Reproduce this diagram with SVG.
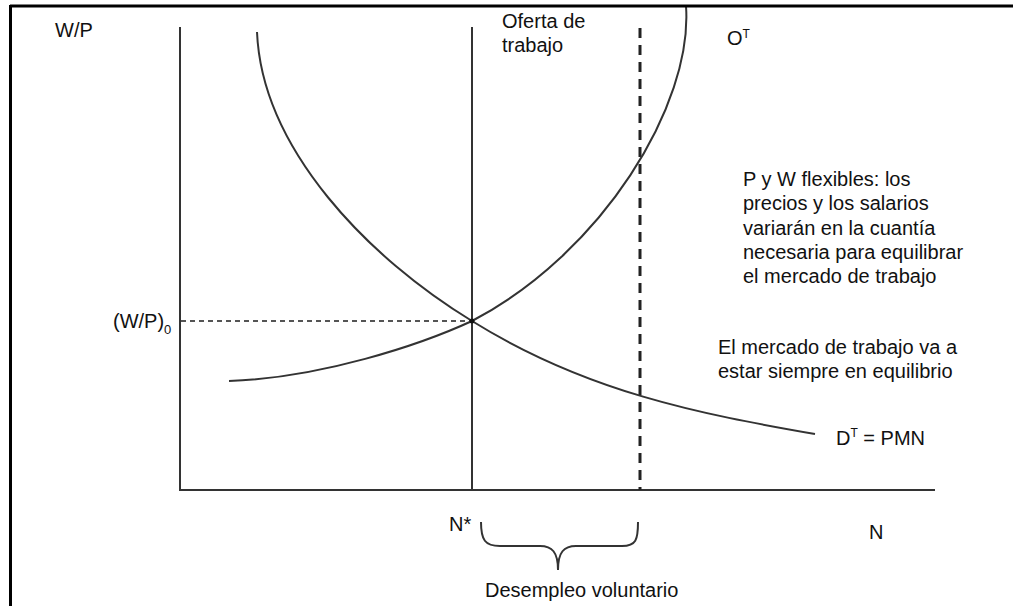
<svg xmlns="http://www.w3.org/2000/svg" width="1013" height="606" viewBox="0 0 1013 606">
<style>
text{font-family:"Liberation Sans",Arial,sans-serif;font-size:20px;fill:#111}
.ax{stroke:#333;stroke-width:2;fill:none}
.cv{stroke:#333;stroke-width:2;fill:none}
.dash{stroke:#222;stroke-width:3;stroke-dasharray:10 7;fill:none}
.hd{stroke:#555;stroke-width:2;stroke-dasharray:5 4;fill:none}
</style>
<rect width="1013" height="606" fill="#fff"/>
<g id="axes">
<line class="ax" x1="180" y1="27" x2="180" y2="490"/>
<line class="ax" x1="179" y1="490" x2="935" y2="490"/>
</g>
<g id="connectors">
<line class="hd" x1="181" y1="321" x2="470" y2="321"/>
<line class="ax" x1="472" y1="27" x2="472" y2="490"/>
<line class="dash" x1="640" y1="28" x2="640" y2="490"/>
<path id="demanda" class="cv" d="M257,32 C262,150 370,259 472,321 C586,392 700,414 815,434"/>
<path id="oferta" class="cv" d="M229,381 C320,378 420,345 472,321 C602,253 693,105 686,6"/>
<circle cx="472" cy="321" r="2.5" fill="#111"/>
<path id="llave" class="cv" d="M481,522 C481,540 485,546 500,546 L540,546 C552,546 558,552 558,570 C558,552 564,546 576,546 L622,546 C636,546 638,540 638,522"/>
</g>
<g id="frame" stroke="#000" stroke-width="3">
<line x1="10" y1="6" x2="1013" y2="6"/>
<line x1="10.5" y1="5" x2="10.5" y2="606"/>
</g>
<g id="labels">
<text id="wp" x="55" y="37">W/P</text>
<text id="wp0" x="113" y="328">(W/P)<tspan font-size="13" dy="6">0</tspan></text>
<text id="oferta-trabajo" x="502" y="28">Oferta de<tspan x="502" dy="24">trabajo</tspan></text>
<text id="ot" x="727" y="45">O<tspan font-size="12" dy="-7">T</tspan></text>
<text id="nota1" x="743" y="186">P y W flexibles: los<tspan x="743" dy="24.3">precios y los salarios</tspan><tspan x="743" dy="24.3">variarán en la cuantía</tspan><tspan x="743" dy="24.3">necesaria para equilibrar</tspan><tspan x="743" dy="24.3">el mercado de trabajo</tspan></text>
<text id="nota2" x="718" y="354">El mercado de trabajo va a<tspan x="718" dy="24">estar siempre en equilibrio</tspan></text>
<text id="dt" x="836" y="445">D<tspan font-size="12" dy="-8">T</tspan><tspan dy="8"> = PMN</tspan></text>
<text id="nstar" x="449" y="531" font-size="17">N*</text>
<text id="n" x="869" y="539">N</text>
<text id="desempleo" x="485" y="597">Desempleo voluntario</text>
</g>
</svg>
